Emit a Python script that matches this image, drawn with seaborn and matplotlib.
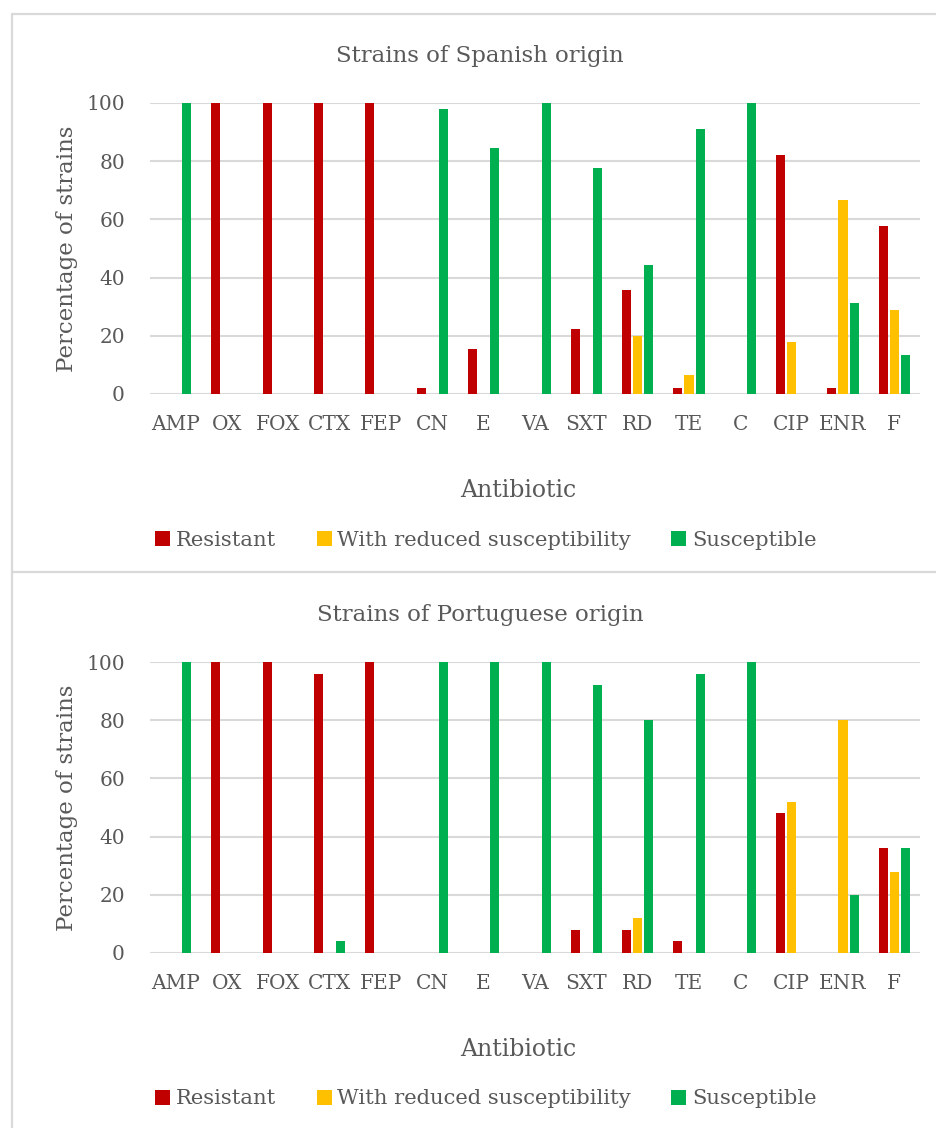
import matplotlib
matplotlib.use("Agg")
import matplotlib.pyplot as plt
from matplotlib.lines import Line2D
from matplotlib.patches import Patch
import pandas as pd
import seaborn as sns

antibiotics = ["AMP", "OX", "FOX", "CTX", "FEP", "CN", "E", "VA", "SXT", "RD", "TE", "C", "CIP", "ENR", "F"]
categories = ["Resistant", "With reduced susceptibility", "Susceptible"]
colors = ["#C00000", "#FFC000", "#00B050"]

# Spanish strains (%)
es_resistant = [0, 100, 100, 100, 100, 2.2, 15.6, 0, 22.2, 35.6, 2.2, 0, 82.2, 2.2, 57.8]
es_reduced = [0, 0, 0, 0, 0, 0, 0, 0, 0, 20.0, 6.7, 0, 17.8, 66.7, 28.9]
es_susceptible = [100, 0, 0, 0, 0, 97.8, 84.4, 100, 77.8, 44.4, 91.1, 100, 0, 31.1, 13.3]

# Portuguese strains (%)
pt_resistant = [0, 100, 100, 96, 100, 0, 0, 0, 8, 8, 4, 0, 48, 0, 36]
pt_reduced = [0, 0, 0, 0, 0, 0, 0, 0, 0, 12, 0, 0, 52, 80, 28]
pt_susceptible = [100, 0, 0, 4, 0, 100, 100, 100, 92, 80, 96, 100, 0, 20, 36]

panels = [
    ("Strains of Spanish origin", [es_resistant, es_reduced, es_susceptible]),
    ("Strains of Portuguese origin", [pt_resistant, pt_reduced, pt_susceptible]),
]

sns.set_theme(style="white")
plt.rcParams["font.family"] = ["DejaVu Serif"]
TEXT = "#595959"
GRID = "#D9D9D9"

W, H = 937, 1128
fig = plt.figure(figsize=(W / 100, H / 100), dpi=100)


def fx(px):
    return px / W


def fy(py):
    return 1 - py / H


def px_box(x0, y0, x1, y1):
    return [x0 / W, 1 - y1 / H, (x1 - x0) / W, (y1 - y0) / H]


# panel frames: top edge, left edge and separator line
frame_kw = dict(color=GRID, linewidth=1.6, transform=fig.transFigure)
fig.add_artist(Line2D([fx(12), 1], [fy(14), fy(14)], **frame_kw))
fig.add_artist(Line2D([fx(12), 1], [fy(572), fy(572)], **frame_kw))
fig.add_artist(Line2D([fx(12), fx(12)], [fy(14), 0], **frame_kw))

# plot area top / bottom in pixels for each panel
layouts = [(103, 394), (662, 953)]

for (title, series), (ptop, pbot) in zip(panels, layouts):
    rows = []
    for cat, vals in zip(categories, series):
        for ab, v in zip(antibiotics, vals):
            rows.append({"Antibiotic": ab, "Category": cat, "Percent": v})
    df = pd.DataFrame(rows)

    ax = fig.add_axes(px_box(150, ptop, 920, pbot))
    sns.barplot(data=df, x="Antibiotic", y="Percent", hue="Category",
                order=antibiotics, hue_order=categories, palette=colors,
                saturation=1, width=0.66, gap=0.2, linewidth=0,
                legend=False, ax=ax, zorder=3)

    ax.set_ylim(0, 100)
    ax.set_xlim(-0.5, len(antibiotics) - 0.5)
    ax.set_yticks(range(0, 101, 20))
    ax.yaxis.grid(True, color=GRID, linewidth=1.5, zorder=0)
    ax.set_axisbelow(True)
    for s in ax.spines.values():
        s.set_visible(False)
    ax.tick_params(axis="both", length=0, colors=TEXT, labelsize=14.5)
    ax.tick_params(axis="x", pad=15)
    ax.tick_params(axis="y", pad=18)
    ax.set_xlabel("")
    ax.set_ylabel("")

    # chart title, axis titles
    fig.text(fx(480), fy(ptop - 41), title, ha="center", va="baseline",
             fontsize=16.5, color=TEXT)
    fig.text(fx(518), fy(pbot + 103), "Antibiotic", ha="center", va="baseline",
             fontsize=17, color=TEXT)
    fig.text(fx(67), fy((ptop + pbot) / 2), "Percentage of strains", ha="center",
             va="center", rotation=90, fontsize=16.5, color=TEXT)

    handles = [Patch(facecolor=c, edgecolor="none") for c in colors]
    fig.legend(handles, categories, loc="center",
               bbox_to_anchor=(fx(486), fy(pbot + 146)),
               ncol=3, frameon=False, fontsize=15.2, labelcolor=TEXT,
               handlelength=0.71, handleheight=0.71, handletextpad=0.28,
               columnspacing=1.9, borderpad=0)

fig.savefig("out.png", dpi=100, facecolor="white")
